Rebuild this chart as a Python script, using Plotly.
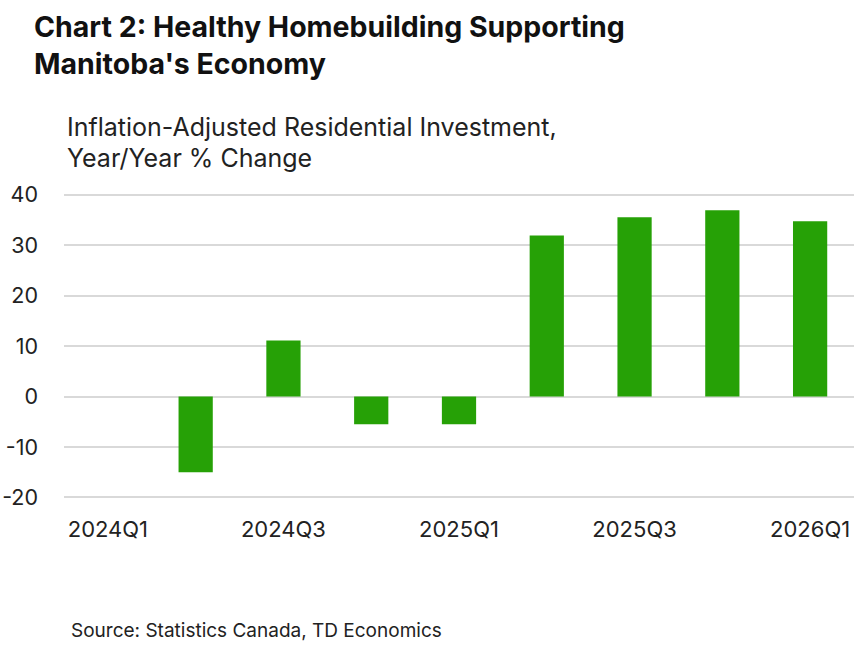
import plotly.graph_objects as go

categories = ["2024Q1", "2024Q2", "2024Q3", "2024Q4", "2025Q1",
              "2025Q2", "2025Q3", "2025Q4", "2026Q1"]
values = [0.0, -15.0, 11.1, -5.5, -5.5, 31.9, 35.5, 36.9, 34.7]
tick_labels = ["2024Q1", "2024Q3", "2025Q1", "2025Q3", "2026Q1"]
y_ticks = [-20, -10, 0, 10, 20, 30, 40]
y_tick_text = ["-20", "-10", "0", "10", "20", "30", "40"]

W, H = 868, 648
L, R, T, B = 64, 14, 193, 149
pw, ph = W - L - R, H - T - B

def px(x):
    return (x - L) / pw

def py(y):
    return (H - B - y) / ph

FONT = "Inter"

fig = go.Figure()
fig.add_trace(go.Bar(
    x=categories, y=values,
    marker=dict(color="#26A106", line=dict(width=0)),
    width=0.39,
))

annos = [
    dict(text="<b>Chart 2: Healthy Homebuilding Supporting</b>", x=px(32), y=py(27),
         font=dict(size=28.5, color="#111111", family=FONT)),
    dict(text="<b>Manitoba's Economy</b>", x=px(32), y=py(64),
         font=dict(size=28.5, color="#111111", family=FONT)),
    dict(text="Inflation-Adjusted Residential Investment,", x=px(65), y=py(127),
         font=dict(size=25, color="#222222", family=FONT)),
    dict(text="Year/Year % Change", x=px(65), y=py(158),
         font=dict(size=25, color="#222222", family=FONT)),
    dict(text="Source: Statistics Canada, TD Economics", x=px(69), y=py(630),
         font=dict(size=19, color="#222222", family=FONT)),
]
for a in annos:
    a.update(xref="paper", yref="paper", xanchor="left", yanchor="middle",
             showarrow=False)

fig.update_layout(
    width=W, height=H,
    margin=dict(l=L, r=R, t=T, b=B, pad=0, autoexpand=False),
    paper_bgcolor="white", plot_bgcolor="white",
    showlegend=False,
    annotations=annos,
    bargap=0.61,
    xaxis=dict(
        type="category", automargin=False,
        tickmode="array", tickvals=tick_labels, ticktext=tick_labels,
        showgrid=False, showline=False, zeroline=False,
        ticks="", ticklabelstandoff=15,
        tickfont=dict(size=22, color="#222222", family=FONT),
    ),
    yaxis=dict(
        range=[-20.3, 40.3], automargin=False,
        tickmode="array", tickvals=y_ticks, ticktext=y_tick_text,
        showgrid=True, gridcolor="#D9D9D9", gridwidth=2,
        zeroline=True, zerolinecolor="#D9D9D9", zerolinewidth=2,
        showline=False, ticks="", ticklabelstandoff=25,
        tickfont=dict(size=21.5, color="#222222", family=FONT),
    ),
)

fig.write_html("out.html")
